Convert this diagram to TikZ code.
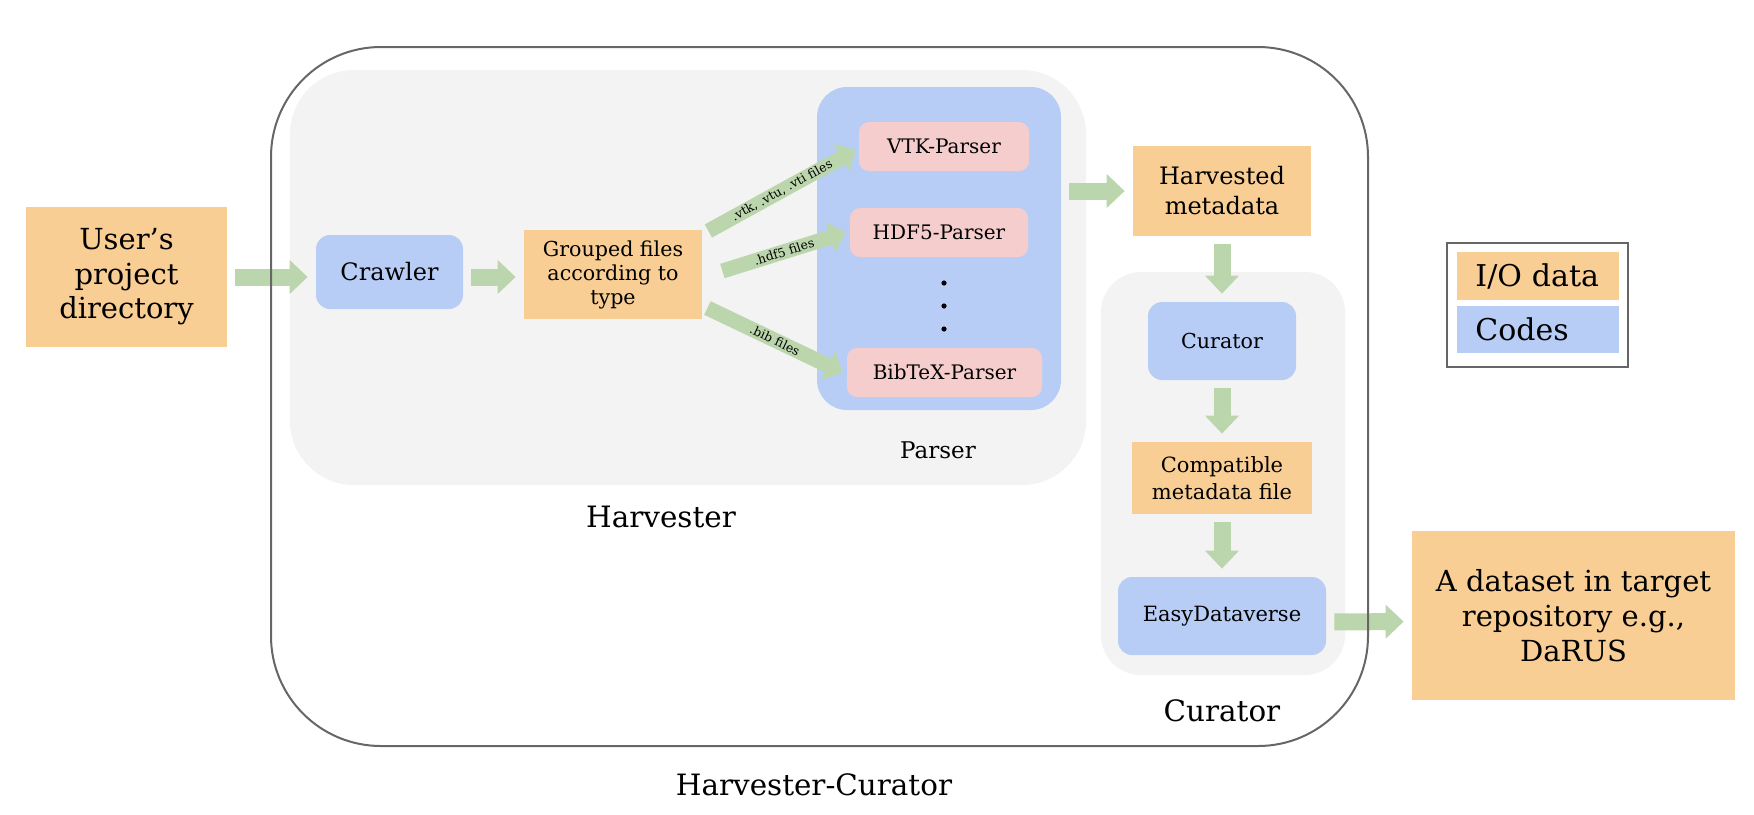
\documentclass[tikz,border=0pt]{standalone}
\usepackage{fontspec}
\setmainfont{DejaVu Serif}
\usepackage{tikz}
\usetikzlibrary{positioning, arrows.meta, calc}

\definecolor{iofill}{HTML}{F8CE95}
\definecolor{codefill}{HTML}{B8CDF5}
\definecolor{parsefill}{HTML}{F6CDCD}
\definecolor{panelfill}{HTML}{F3F3F3}
\definecolor{flowgreen}{HTML}{BBD6AC}
\definecolor{framegray}{HTML}{666666}

\begin{document}
\begin{tikzpicture}[
            x = 0.5pt, y = -0.5pt,
            every node/.style = {
                align = center,
                inner sep = 0pt,
                text = black
            },
            iobox/.style = {
                fill = iofill
            },
            codebox/.style = {
                fill = codefill,
                rounded corners = 7pt
            },
            parserbox/.style = {
                fill = parsefill,
                rounded corners = 5pt,
                minimum height = 24.5pt,
                font = \fontsize{10}{12}\selectfont
            },
            panel/.style = {
                fill = panelfill
            },
            caption/.style = {
                font = \fontsize{14.7}{17}\selectfont
            },
            flow/.style = {
                draw = flowgreen,
                line width = 8.5pt,
                -{Triangle[length = 9pt, width = 16.5pt]},
                shorten < = 4pt,
                shorten > = 4pt
            },
            fan/.style = {
                draw = flowgreen,
                line width = 7.5pt,
                -{Triangle[length = 8pt, width = 15.5pt]}
            },
            filetag/.style = {
                font = \fontsize{6.2}{7}\selectfont,
                sloped,
                midway
            }
        ]
            \useasboundingbox (0,0) rectangle (1754,814);

            % containers
            \node[panel, rounded corners = 32pt, minimum width = 398pt, minimum height = 207.5pt] (harvester) at (688,277.5) {};
            \node[fill = codefill, rounded corners = 15pt, minimum width = 122pt, minimum height = 161.5pt] (parser) at (939,248.5) {};
            \node[panel, rounded corners = 20pt, minimum width = 122pt, minimum height = 201.5pt] (curpanel) at (1223,473.5) {};

            % container labels
            \node[font = \fontsize{11.5}{14}\selectfont] (parserlabel) at (938,450) {Parser};
            \node[caption] (harvlabel) at (661,517) {Harvester};
            \node[caption] (curlabel) at (1222,711) {Curator};
            \node[caption] (hclabel) at (814,785) {Harvester-Curator};

            % harvester
            \node[iobox, minimum width = 100.5pt, minimum height = 70pt, font = \fontsize{14.5}{17.25}\selectfont] (user) at (126.5,277) {
                User’s \\
                project \\
                directory
            };
            \node[codebox, minimum width = 73.5pt, minimum height = 37pt, font = \fontsize{12}{14}\selectfont] (crawler) at (389.5,272) {Crawler};
            \node[iobox, minimum width = 89pt, minimum height = 44.5pt, font = \fontsize{10.3}{12}\selectfont] (grouped) at (613,274.5) {
                Grouped files \\
                according to \\
                type
            };
            \node[parserbox, minimum width = 85pt] (vtk) at (944,146.5) {VTK-Parser};
            \node[parserbox, minimum width = 89pt] (hdf) at (939,232.5) {HDF5-Parser};
            \node[parserbox, minimum width = 97.5pt] (bib) at (944.5,372.5) {BibTeX-Parser};
            \foreach \dy in {283, 306, 329} {
                \fill (944,\dy) circle (1.3pt);
            }

            % curator
            \node[iobox, minimum width = 89pt, minimum height = 45pt, font = \fontsize{12}{15}\selectfont] (harvested) at (1222,191) {
                Harvested \\
                metadata
            };
            \node[codebox, minimum width = 74pt, minimum height = 39pt, font = \fontsize{10.3}{12}\selectfont] (curator) at (1222,341) {Curator};
            \node[iobox, minimum width = 90pt, minimum height = 36pt, font = \fontsize{10.5}{13.5}\selectfont] (compat) at (1222,478) {
                Compatible \\
                metadata file
            };
            \node[codebox, minimum width = 104pt, minimum height = 39pt, font = \fontsize{10.5}{12}\selectfont] (easy) at (1222,616) {EasyDataverse};
            \node[iobox, minimum width = 161.5pt, minimum height = 84.5pt, font = \fontsize{14.5}{17.5}\selectfont] (dataset) at (1573.5,615.5) {
                A dataset in target \\
                repository e.g., \\
                DaRUS
            };

            % legend
            \node[draw = framegray, line width = 0.75pt, minimum width = 90.5pt, minimum height = 62pt] (legend) at (1537.5,305) {};
            \node[iobox, anchor = west, inner xsep = 9pt, text width = 63pt, minimum height = 24pt, align = left, font = \fontsize{15}{17}\selectfont] (io) at (1457,276) {I/O data};
            \node[codebox, rounded corners = 0pt, anchor = west, inner xsep = 9pt, text width = 63pt, minimum height = 23.5pt, align = left, font = \fontsize{15}{17}\selectfont] (codes) at (1457,329.5) {Codes};

            % flow arrows
            \draw[flow] (user.east) -- (user.east -| crawler.west);
            \draw[flow] (crawler.east |- user.east) -- (user.east -| grouped.west);
            \draw[fan] ($(grouped.east)+(6,-43.5)$) -- ($(vtk.west)+(-3,3.5)$) node[filetag] {.vtk, .vtu, .vti files};
            \draw[fan] ($(grouped.east)+(20,-3.5)$) -- ($(hdf.west)+(-4,0)$) node[filetag] {.hdf5 files};
            \draw[fan] ($(grouped.east)+(5,33.5)$) -- ($(bib.west)+(-4,0)$) node[filetag] {.bib files};
            \draw[flow] (parser.east |- harvested.west) -- (harvested.west);
            \draw[flow] (harvested.south) -- (curator.north);
            \draw[flow] (curator.south) -- (compat.north);
            \draw[flow] (compat.south) -- (easy.north);
            \draw[flow] ([yshift=-3pt]easy.east) -- ([yshift=-3pt]dataset.west);

            % outer frame
            \node[draw = framegray, line width = 1pt, rounded corners = 55pt, minimum width = 548.5pt, minimum height = 349.5pt] (hcframe) at (819.5,396.5) {};
        \end{tikzpicture}
\end{document}
